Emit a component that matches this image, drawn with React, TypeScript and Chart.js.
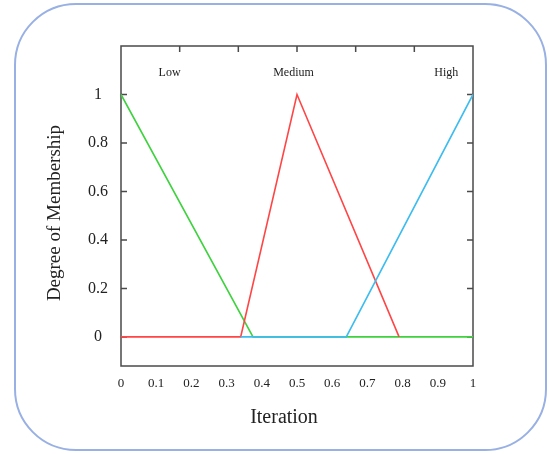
import React, { useEffect, useRef } from "react";
import { Chart, registerables } from "chart.js";

Chart.register(...registerables);

// ---- data ----
const lowX = [0, 0.375, 1];
const lowY = [1, 0, 0];
const mediumX = [0, 0.34, 0.5, 0.79];
const mediumY = [0, 0, 1, 0];
const highX = [0.34, 0.64, 1];
const highY = [0, 0, 1];

const xTicks = [0, 0.1, 0.2, 0.3, 0.4, 0.5, 0.6, 0.7, 0.8, 0.9, 1];
const yTicks = [0, 0.2, 0.4, 0.6, 0.8, 1];
const topTicks = [0.1667, 0.3333, 0.5, 0.6667, 0.8333];

const labelTexts = ["Low", "Medium", "High"];
const labelX = [0.138, 0.49, 0.924];
const labelY = [1.09, 1.09, 1.09];

const xTitle = "Iteration";
const yTitle = "Degree of Membership";

const FONT = "'Liberation Serif', 'DejaVu Serif', serif";

const pts = (xs: number[], ys: number[]) => xs.map((x, i) => ({ x, y: ys[i] }));

const framePlugin = {
  id: "framePlugin",
  beforeDatasetsDraw(chart: any) {
    const { ctx, chartArea } = chart;
    const xs = chart.scales.x;
    const ys = chart.scales.y;
    const { left, right, top, bottom } = chartArea;
    ctx.save();
    ctx.strokeStyle = "#4a4a4a";
    ctx.lineWidth = 1.5;
    ctx.strokeRect(left, top, right - left, bottom - top);
    const tl = 6;
    ctx.beginPath();
    yTicks.forEach((v) => {
      const p = ys.getPixelForValue(v);
      ctx.moveTo(left, p);
      ctx.lineTo(left + tl, p);
      ctx.moveTo(right, p);
      ctx.lineTo(right - tl, p);
    });
    topTicks.forEach((v) => {
      const p = xs.getPixelForValue(v);
      ctx.moveTo(p, top);
      ctx.lineTo(p, top + tl);
    });
    ctx.stroke();
    ctx.restore();
  },
  afterDraw(chart: any) {
    const { ctx, chartArea } = chart;
    const xs = chart.scales.x;
    const ys = chart.scales.y;
    const { left, right, top, bottom } = chartArea;
    ctx.save();
    // annotations
    ctx.fillStyle = "#222";
    ctx.font = `12px ${FONT}`;
    ctx.textAlign = "center";
    ctx.textBaseline = "middle";
    labelTexts.forEach((t, i) => {
      ctx.fillText(t, xs.getPixelForValue(labelX[i]), ys.getPixelForValue(labelY[i]));
    });

    // axis titles
    ctx.font = `20px ${FONT}`;
    ctx.fillText(xTitle, (left + right) / 2 - 13, 418);
    ctx.translate(55, (top + bottom) / 2 + 7);
    ctx.rotate(-Math.PI / 2);
    ctx.font = `19px ${FONT}`;
    ctx.fillText(yTitle, 0, 0);
    ctx.restore();
  },
};

export default function App() {
  const ref = useRef<HTMLCanvasElement | null>(null);

  useEffect(() => {
    if (!ref.current) return;
    const chart = new Chart(ref.current, {
      type: "line",
      data: {
        datasets: [
          { label: "Low", data: pts(lowX, lowY), borderColor: "#3fd23f", order: 3 },
          { label: "Medium", data: pts(mediumX, mediumY), borderColor: "#ff4545", order: 2 },
          { label: "High", data: pts(highX, highY), borderColor: "#3cbcef", order: 1 },
        ].map((d) => ({ ...d, borderWidth: 1.6, pointRadius: 0, fill: false, tension: 0 })),
      },
      options: {
        animation: false,
        responsive: false,
        layout: { padding: { left: 0, right: 76, top: 46, bottom: 0 } },
        plugins: { legend: { display: false }, tooltip: { enabled: false } },
        scales: {
          x: {
            type: "linear",
            min: 0,
            max: 1,
            grid: { display: false, drawTicks: false },
            border: { display: false },
            afterBuildTicks: (s: any) => {
              s.ticks = xTicks.map((v) => ({ value: v }));
            },
            afterFit: (s: any) => {
              s.height = 88;
            },
            ticks: {
              font: { family: FONT, size: 13 },
              color: "#222",
              padding: 10,
              maxRotation: 0,
              autoSkip: false,
              callback: (v: any) => String(Math.round(Number(v) * 10) / 10),
            },
          },
          y: {
            type: "linear",
            min: -0.12,
            max: 1.2,
            grid: { display: false, drawTicks: false },
            border: { display: false },
            afterBuildTicks: (s: any) => {
              s.ticks = yTicks.map((v) => ({ value: v }));
            },
            afterFit: (s: any) => {
              s.width = 121;
            },
            ticks: {
              font: { family: FONT, size: 16 },
              color: "#222",
              padding: 13,
              crossAlign: "center",
              callback: (v: any) => String(Math.round(Number(v) * 10) / 10),
            },
          },
        },
      },
      plugins: [framePlugin],
    } as any);
    return () => chart.destroy();
  }, []);

  return (
    <>
      <canvas
        ref={ref}
        width={549}
        height={454}
        style={{ position: "absolute", left: 0, top: 0, width: 549, height: 454, display: "block" }}
      />
      <div
        style={{
          position: "absolute",
          left: 14,
          top: 3,
          width: 533,
          height: 448,
          boxSizing: "border-box",
          border: "2px solid #98b0e4",
          borderRadius: 62,
          pointerEvents: "none",
        }}
      />
    </>
  );
}
